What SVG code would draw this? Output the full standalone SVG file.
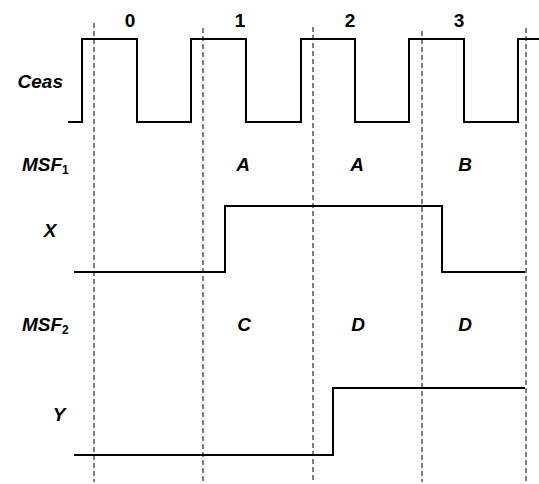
<svg xmlns="http://www.w3.org/2000/svg" width="539" height="484" viewBox="0 0 539 484">
  <style>
    .bg { fill: #ffffff; }
    .grid { stroke: #000000; stroke-width: 1; stroke-dasharray: 5 3; fill: none; }
    .wave { stroke: #000000; stroke-width: 2; fill: none; stroke-linejoin: miter; }
    .lbl { font-family: "Liberation Sans", Arial, sans-serif; font-weight: bold; font-style: italic; font-size: 19px; fill: #000000; }
    .num { font-family: "Liberation Sans", Arial, sans-serif; font-weight: bold; font-size: 19px; fill: #000000; text-anchor: middle; }
    .val { text-anchor: middle; }
    .sub { font-style: normal; font-size: 12px; }
  </style>
  <rect class="bg" x="0" y="0" width="539" height="484"/>

  <!-- clock-edge reference lines -->
  <g id="grid">
    <line class="grid" x1="94" y1="23" x2="94" y2="482"/>
    <line class="grid" x1="203" y1="28" x2="203" y2="482"/>
    <line class="grid" x1="313" y1="27" x2="313" y2="482"/>
    <line class="grid" x1="422" y1="31" x2="422" y2="482"/>
    <line class="grid" x1="526" y1="28" x2="526" y2="482"/>
  </g>

  <!-- cycle numbers -->
  <g id="cycles">
    <text class="num" x="130" y="27">0</text>
    <text class="num" x="240" y="27">1</text>
    <text class="num" x="350" y="27">2</text>
    <text class="num" x="459" y="27">3</text>
  </g>

  <!-- clock -->
  <g id="ceas">
    <text class="lbl" x="63" y="88" text-anchor="end">Ceas</text>
    <polyline class="wave" points="68,122 82,122 82,39 137,39 137,122 191,122 191,39 246,39 246,122 301,122 301,39 355,39 355,122 409,122 409,39 464,39 464,122 518,122 518,39 539,39"/>
  </g>

  <!-- MSF1 state row -->
  <g id="msf1">
    <text class="lbl" x="22" y="171">MSF<tspan class="sub" dy="3">1</tspan></text>
    <text class="lbl val" x="243" y="171">A</text>
    <text class="lbl val" x="357" y="171">A</text>
    <text class="lbl val" x="465" y="171">B</text>
  </g>

  <!-- X signal -->
  <g id="x">
    <text class="lbl val" x="50" y="237">X</text>
    <polyline class="wave" points="74,272 225,272 225,206 442,206 442,272 525,272"/>
  </g>

  <!-- MSF2 state row -->
  <g id="msf2">
    <text class="lbl" x="22" y="331">MSF<tspan class="sub" dy="3">2</tspan></text>
    <text class="lbl val" x="244" y="331">C</text>
    <text class="lbl val" x="358" y="331">D</text>
    <text class="lbl val" x="465" y="331">D</text>
  </g>

  <!-- Y signal -->
  <g id="y">
    <text class="lbl val" x="59" y="421">Y</text>
    <polyline class="wave" points="74,455 333,455 333,388 525,388"/>
  </g>
</svg>
